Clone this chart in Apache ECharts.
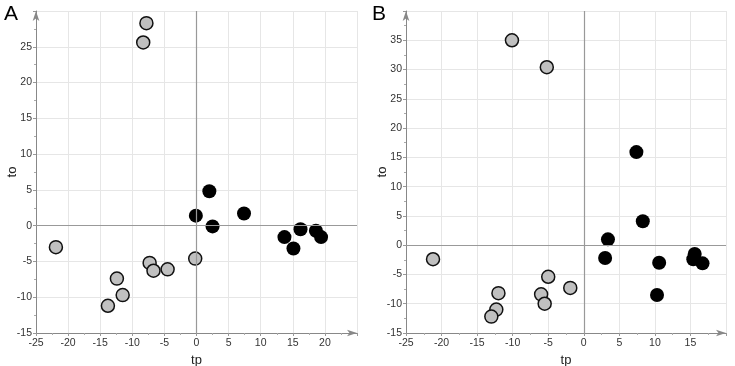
<!DOCTYPE html>
<html>
<head>
<meta charset="utf-8">
<script src="https://cdn.jsdelivr.net/npm/echarts@6/dist/echarts.min.js"></script>
<style>
  html, body { margin: 0; padding: 0; background: #fff; }
  #main { width: 735px; height: 366px; }
</style>
</head>
<body>
<div id="main"></div>
<script>
// panel A: [tp, to]
const greyA = [[-7.8, 28.3], [-8.3, 25.6], [-21.9, -3.0], [-7.3, -5.2], [-6.7, -6.3],
  [-4.5, -6.1], [-0.2, -4.6], [-12.4, -7.4], [-11.5, -9.7], [-13.8, -11.2]];
const blackA = [[2.0, 4.8], [-0.1, 1.4], [2.5, -0.1], [7.4, 1.7], [13.7, -1.6],
  [15.1, -3.2], [16.2, -0.5], [18.6, -0.7], [19.4, -1.6]];

// panel B
const greyB = [[-10.1, 35.0], [-5.2, 30.4], [-21.2, -2.4], [-5.0, -5.4], [-1.9, -7.3],
  [-12.0, -8.2], [-6.0, -8.4], [-5.5, -10.0], [-12.3, -11.0], [-13.0, -12.2]];
const blackB = [[7.4, 15.9], [8.3, 4.1], [3.4, 1.0], [3.0, -2.2], [10.6, -3.0],
  [10.3, -8.5], [15.6, -1.5], [15.4, -2.4], [16.7, -3.1]];

const font = 'Liberation Sans, Arial, sans-serif';

function xAx(idx, max) {
  return {
    gridIndex: idx, type: 'value', min: -25, max: max, interval: 5,
    name: 'tp', nameLocation: 'middle', nameGap: 18,
    nameTextStyle: { fontFamily: font, fontSize: 13, color: '#222' },
    axisLine: { onZero: false, lineStyle: { color: '#888' }, symbol: ['none', 'arrow'], symbolSize: [5, 10] },
    axisTick: { show: true, length: 3, lineStyle: { color: '#999' } },
    minorTick: { show: true, splitNumber: 2, length: 2, lineStyle: { color: '#aaa' } },
    axisLabel: { fontFamily: font, fontSize: 10.5, color: '#333', margin: 5,
      formatter: v => (v === max ? '' : v) },
    splitLine: { show: true, lineStyle: { color: '#e6e6e6' } }
  };
}
function yAx(idx, min, max) {
  return {
    gridIndex: idx, type: 'value', min: min, max: max, interval: 5,
    name: 'to', nameLocation: 'middle', nameGap: 17, nameRotate: 90, nameMoveOverlap: false,
    nameTextStyle: { fontFamily: font, fontSize: 13, color: '#222' },
    axisLine: { onZero: false, lineStyle: { color: '#888' }, symbol: ['none', 'arrow'], symbolSize: [5, 10] },
    axisTick: { show: true, length: 3, lineStyle: { color: '#999' } },
    minorTick: { show: true, splitNumber: 2, length: 2, lineStyle: { color: '#aaa' } },
    axisLabel: { fontFamily: font, fontSize: 10.5, color: '#333', margin: 4,
      formatter: v => (v === max ? '' : v) },
    splitLine: { show: true, lineStyle: { color: '#e6e6e6' } }
  };
}

const zeroLines = {
  silent: true, symbol: 'none', label: { show: false },
  lineStyle: { color: '#999', type: 'solid', width: 1.2 },
  data: [{ xAxis: 0 }, { yAxis: 0 }]
};

function greySeries(idx, data) {
  return {
    type: 'scatter', xAxisIndex: idx, yAxisIndex: idx, data: data, symbolSize: 13,
    itemStyle: { color: '#c0c0c0', borderColor: '#111', borderWidth: 1.5, opacity: 1 },
    markLine: zeroLines, z: 3
  };
}
function blackSeries(idx, data) {
  return {
    type: 'scatter', xAxisIndex: idx, yAxisIndex: idx, data: data, symbolSize: 14,
    itemStyle: { color: '#000', opacity: 1 }, z: 4
  };
}

const chart = echarts.init(document.getElementById('main'));
chart.setOption({
  animation: false,
  title: [
    { text: 'A', left: 4, top: 4, padding: 0, textStyle: { fontFamily: font, fontSize: 21, fontWeight: 'normal', color: '#000' } },
    { text: 'B', left: 372, top: 4, padding: 0, textStyle: { fontFamily: font, fontSize: 21, fontWeight: 'normal', color: '#000' } }
  ],
  grid: [
    { left: 36, width: 321, top: 11, bottom: 33, outerBoundsMode: 'none', containLabel: false },
    { left: 406, width: 320, top: 11, bottom: 33, outerBoundsMode: 'none', containLabel: false }
  ],
  xAxis: [xAx(0, 25), xAx(1, 20)],
  yAxis: [yAx(0, -15, 30), yAx(1, -15, 40)],
  series: [
    greySeries(0, greyA), blackSeries(0, blackA),
    greySeries(1, greyB), blackSeries(1, blackB)
  ]
});
</script>
</body>
</html>
